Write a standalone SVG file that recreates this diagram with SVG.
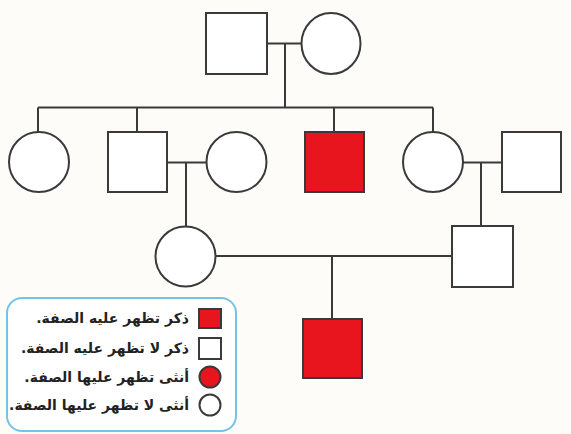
<svg xmlns="http://www.w3.org/2000/svg" width="571" height="434" viewBox="0 0 571 434">
<style>
.s{fill:#fff;stroke:#3a3a3a;stroke-width:2}
.a{fill:#e8141e;stroke:#3a3a3a;stroke-width:2}
.c{fill:none;stroke:#3a3a3a;stroke-width:2}
.t{font-family:"DejaVu Sans",sans-serif;font-size:14px;font-weight:bold;fill:#222}
</style>
<rect width="571" height="434" fill="#fdfcf8"/>
<g id="connectors" class="c">
<path d="M267 43.5H302M285 43.5V107.5M38 107.5H433M38 107.5V132M137 107.5V132M334 107.5V132M433 107.5V132"/>
<path d="M167 162.5H206M186 162.5V226M463 162.5H502M481 162.5V226"/>
<path d="M215.5 256H452M332 256V319"/>
</g>
<g id="gen1-father"><rect class="s" x="206" y="13" width="61" height="61"/></g>
<g id="gen1-mother"><ellipse class="s" cx="331" cy="43.5" rx="29.5" ry="30.5"/></g>
<g id="gen2-daughter1"><circle class="s" cx="39" cy="162" r="30"/></g>
<g id="gen2-son1"><rect class="s" x="108" y="132" width="59" height="60"/></g>
<g id="gen2-son1-wife"><circle class="s" cx="236.5" cy="162" r="30"/></g>
<g id="gen2-son2-affected"><rect class="a" x="305" y="132" width="59" height="60"/></g>
<g id="gen2-daughter2"><circle class="s" cx="433" cy="162" r="30"/></g>
<g id="gen2-daughter2-husband"><rect class="s" x="502" y="132" width="59" height="60"/></g>
<g id="gen3-daughter"><circle class="s" cx="185.5" cy="256.5" r="30"/></g>
<g id="gen3-son"><rect class="s" x="452" y="226" width="61" height="61"/></g>
<g id="gen4-son-affected"><rect class="a" x="303" y="319" width="59" height="59"/></g>
<g id="legend">
<rect x="7" y="298" width="229" height="133" rx="15" fill="#fff" stroke="#74c3e6" stroke-width="2"/>
<rect class="a" x="199" y="309" width="22" height="19" stroke-width="1.5"/>
<rect class="s" x="199" y="338" width="22" height="21" stroke-width="1.5"/>
<circle class="a" cx="210" cy="377" r="10.5" stroke-width="1.5"/>
<circle class="s" cx="210" cy="405" r="10.5" stroke-width="1.5"/>
<text class="t" x="189" y="323" direction="rtl" text-anchor="start">ذكر تظهر عليه الصفة.</text>
<text class="t" x="189" y="353" direction="rtl" text-anchor="start">ذكر لا تظهر عليه الصفة.</text>
<text class="t" x="189" y="382" direction="rtl" text-anchor="start">أنثى تظهر عليها الصفة.</text>
<text class="t" x="189" y="410" direction="rtl" text-anchor="start">أنثى لا تظهر عليها الصفة.</text>
</g>
</svg>
